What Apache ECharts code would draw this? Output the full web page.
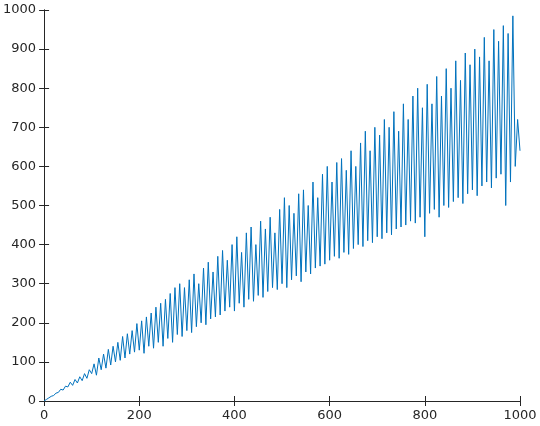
<!DOCTYPE html>
<html>
<head>
<meta charset="utf-8">
<script src="https://cdn.jsdelivr.net/npm/echarts@6/dist/echarts.min.js"></script>
<style>html,body{margin:0;padding:0;background:#fff}#chart{width:540px;height:426px}</style>
</head>
<body>
<div id="chart"></div>
<script>
// sample positions along x (step 5) and values
var xStep = 5;
var yValues = [
  0,4,8,12,14,20,22,30,28,38,36,48,40,55,46,62,52,70,58,80,
  70,95,66,110,80,120,84,132,92,140,100,150,104,165,110,172,120,180,125,198,
  130,205,122,215,140,225,135,240,150,250,140,260,160,275,150,290,170,300,165,290,
  180,310,175,325,190,300,200,340,195,355,210,330,215,370,220,385,230,360,240,400,
  230,420,250,380,240,430,260,445,255,400,270,460,265,440,280,470,290,430,285,490,
  300,520,290,500,310,480,320,530,305,540,330,500,325,560,340,520,345,580,350,600,
  360,560,370,610,365,620,380,590,375,640,390,600,400,660,395,690,410,640,405,700,
  420,680,415,720,430,700,425,740,440,690,445,760,450,720,460,780,455,800,470,750,
  420,810,480,760,490,830,470,780,500,850,495,800,510,870,520,820,505,890,530,860,
  540,900,525,880,550,930,560,870,545,950,570,920,580,960,500,940,560,985,600,720,
  640
];
var xTicks = [0, 200, 400, 600, 800, 1000];
var yTicks = [0, 100, 200, 300, 400, 500, 600, 700, 800, 900, 1000];

var points = yValues.map(function (v, i) { return [i * xStep, v]; });
var chart = echarts.init(document.getElementById('chart'));
var axisColor = '#262626';
function axis(pos, interval, labels) {
  return {
    type: 'value', position: pos, min: 0, max: 1000, interval: interval,
    axisLine: { show: true, lineStyle: { color: axisColor, width: 1 } },
    axisTick: { show: true, inside: true, length: 5, lineStyle: { color: axisColor } },
    axisLabel: {
      show: labels, color: axisColor, fontSize: 13, fontFamily: 'DejaVu Sans', margin: 8,
      formatter: function (v) { return String(v); }
    },
    splitLine: { show: false }
  };
}
chart.setOption({
  animation: false,
  grid: { left: 44, right: 20, top: 10, bottom: 25 },
  xAxis: [axis('bottom', 200, true), axis('top', 200, false)],
  yAxis: [axis('left', 100, true), axis('right', 100, false)],
  series: [{
    type: 'line', data: points, showSymbol: false, symbol: 'none',
    lineStyle: { color: '#0072BD', width: 1 }
  }]
});
</script>
</body>
</html>
